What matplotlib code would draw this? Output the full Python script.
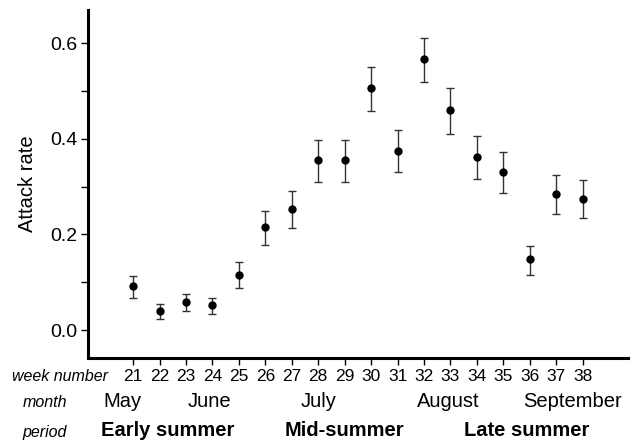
import matplotlib
matplotlib.use("Agg")
import matplotlib.pyplot as plt
import matplotlib.transforms as mtransforms
import numpy as np

plt.rcParams['font.family'] = ['Liberation Sans', 'DejaVu Sans']

weeks = [21, 22, 23, 24, 25, 26, 27, 28, 29, 30, 31, 32, 33, 34, 35, 36, 37, 38]
attack = [0.093, 0.041, 0.058, 0.052, 0.116, 0.215, 0.253, 0.355, 0.355, 0.506,
          0.375, 0.566, 0.460, 0.362, 0.330, 0.148, 0.284, 0.275]
lower = [0.068, 0.024, 0.039, 0.033, 0.088, 0.178, 0.213, 0.310, 0.310, 0.459,
         0.330, 0.519, 0.411, 0.317, 0.286, 0.116, 0.242, 0.234]
upper = [0.114, 0.055, 0.075, 0.068, 0.143, 0.250, 0.290, 0.398, 0.398, 0.550,
         0.418, 0.610, 0.506, 0.405, 0.372, 0.176, 0.325, 0.314]

months = ["May", "June", "July", "August", "September"]
month_pos = [20.6, 23.9, 28.0, 32.9, 37.6]
periods = ["Early summer", "Mid-summer", "Late summer"]
period_pos = [22.3, 29.0, 35.9]

fig = plt.figure(figsize=(6.34, 4.44), dpi=100)
ax = fig.add_axes([0.139, 0.194, 0.851, 0.783])

w = np.array(weeks)
a = np.array(attack)
err = [a - np.array(lower), np.array(upper) - a]
ax.errorbar(w, a, yerr=err, fmt='o', color='black', ecolor='#333333',
            elinewidth=1.0, capsize=3, capthick=1.0, markersize=5)

ax.set_xlim(19.3, 39.7)
ax.set_ylim(-0.058, 0.669)
ax.set_xticks(weeks)
ax.set_xticklabels([str(x) for x in weeks], fontsize=12.5)
ax.set_yticks([0.0, 0.2, 0.4, 0.6])
ax.set_yticklabels(["0.0", "0.2", "0.4", "0.6"], fontsize=14)
ax.set_yticks([0.1, 0.3, 0.5], minor=True)
ax.tick_params(axis='both', which='major', length=5, width=1, pad=3)
ax.tick_params(axis='y', which='minor', length=5, width=1)
for s in ['top', 'right']:
    ax.spines[s].set_visible(False)
for s in ['left', 'bottom']:
    ax.spines[s].set_linewidth(2.2)
ax.set_ylabel("Attack rate", fontsize=14.5, labelpad=9)

fig.text(108 / 634, 1 - 381 / 444, "week number", fontsize=11.5, style='italic',
         ha='right', va='baseline')
fig.text(45 / 634, 1 - 406.5 / 444, "month", fontsize=11.5, style='italic',
         ha='center', va='baseline')
fig.text(45 / 634, 1 - 437 / 444, "period", fontsize=11.5, style='italic',
         ha='center', va='baseline')

mtrans = mtransforms.blended_transform_factory(ax.transData, fig.transFigure)
for m, p in zip(months, month_pos):
    ax.text(p, 1 - 406.5 / 444, m, transform=mtrans, fontsize=14.5,
            ha='center', va='baseline', clip_on=False)
for t, p in zip(periods, period_pos):
    ax.text(p, 1 - 436 / 444, t, transform=mtrans, fontsize=14.5,
            fontweight='bold', ha='center', va='baseline', clip_on=False)

fig.savefig("out.png", dpi=100)
